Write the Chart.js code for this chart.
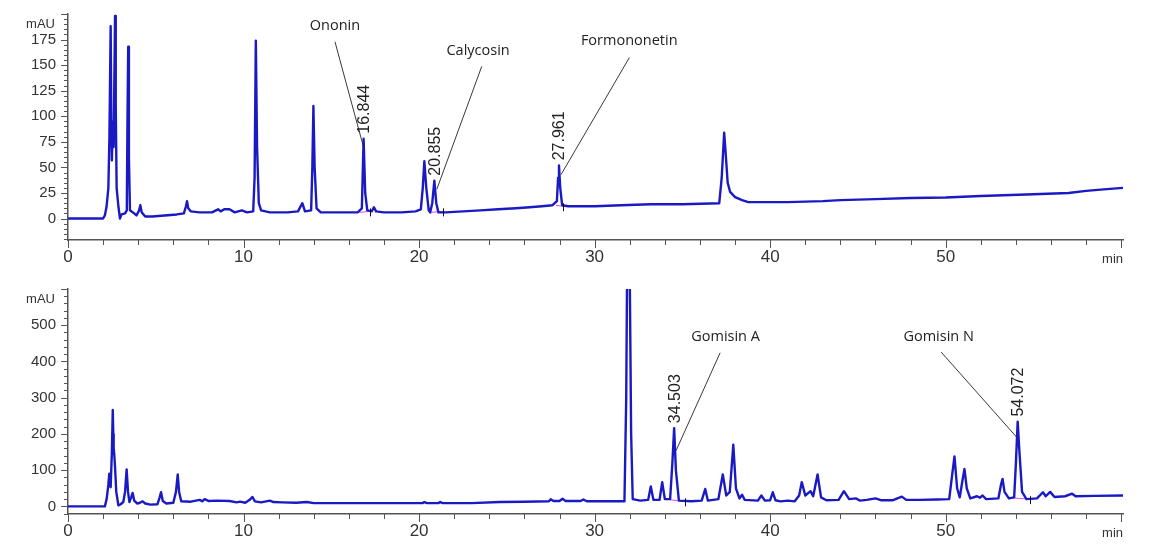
<!DOCTYPE html>
<html>
<head>
<meta charset="utf-8">
<title>Chromatograms</title>
<script src="https://cdn.jsdelivr.net/npm/chart.js@4.4.1/dist/chart.umd.min.js"></script>
<style>
  html, body { margin: 0; padding: 0; background: #fff; }
  #wrap { position: relative; width: 1151px; height: 551px; overflow: hidden; }
  #wrap canvas { position: absolute; left: 0; }
  #topChart { top: 0; }
  #bottomChart { top: 275px; }
</style>
</head>
<body>
<div id="wrap">
  <canvas id="topChart" width="1151" height="275"></canvas>
  <canvas id="bottomChart" width="1151" height="276"></canvas>
</div>
<script>
// retention time (min), absorbance (mAU)
const topTrace = [
  [0, 0], [2.0, 0], [2.1, 3], [2.2, 12], [2.3, 30], [2.36, 80], [2.43, 188], [2.47, 90], [2.5, 57],
  [2.55, 95], [2.6, 70], [2.65, 150], [2.68, 198], [2.72, 110], [2.77, 30], [2.87, 12], [2.96, 0],
  [3.05, 4], [3.25, 5], [3.35, 8], [3.39, 100], [3.43, 168], [3.47, 60], [3.53, 8], [3.7, 6], [3.9, 3],
  [4.05, 8], [4.12, 13], [4.2, 6], [4.4, 2], [4.8, 2], [5.5, 3], [6.2, 4], [6.6, 5], [6.72, 12],
  [6.78, 17], [6.85, 10], [7.0, 7], [7.5, 6], [8.2, 6], [8.55, 9], [8.7, 7], [8.9, 9], [9.2, 9],
  [9.5, 6], [9.9, 8], [10.2, 6], [10.55, 7], [10.63, 40], [10.7, 174], [10.77, 70], [10.87, 15],
  [11.0, 8], [11.5, 6], [12.5, 6], [13.1, 7], [13.35, 15], [13.5, 7], [13.85, 8], [13.92, 50],
  [13.98, 110], [14.05, 50], [14.16, 10], [14.4, 6], [15.5, 6], [16.5, 6], [16.74, 10], [16.84, 78],
  [16.93, 25], [17.05, 8], [17.3, 7], [17.43, 11], [17.55, 7], [18, 6], [19, 6], [19.8, 7], [20.1, 9],
  [20.21, 30], [20.3, 56], [20.41, 30], [20.55, 8], [20.63, 6], [20.75, 15], [20.87, 37], [20.98, 15],
  [21.1, 6], [21.5, 6], [22.5, 7], [23.5, 8], [24.5, 9], [25.5, 10], [26.3, 11], [27.0, 12], [27.6, 13],
  [27.85, 17], [27.92, 40], [27.97, 52], [28.04, 30], [28.15, 13], [28.5, 12], [30, 12], [31.5, 13],
  [33.2, 14], [35, 14], [37.1, 15], [37.24, 40], [37.38, 84], [37.48, 60], [37.58, 35], [37.72, 26],
  [38.0, 21], [38.4, 18], [38.75, 16], [39.0, 16], [41, 16], [43, 17], [44, 18], [46, 19], [48, 20],
  [50, 20.5], [52, 22], [55, 23.7], [57, 25], [58, 27], [59, 28.5], [60.1, 30]
];

// retention time (min), absorbance (mAU)
const bottomTrace = [
  [0, 0], [2.1, 0], [2.2, 20], [2.24, 35], [2.3, 60], [2.35, 90], [2.43, 53], [2.5, 150], [2.55, 266],
  [2.58, 200], [2.6, 163], [2.64, 140], [2.68, 108], [2.75, 40], [2.87, 3], [3.0, 6], [3.15, 12],
  [3.25, 40], [3.34, 102], [3.42, 40], [3.5, 12], [3.6, 25], [3.68, 37], [3.78, 15], [3.95, 8],
  [4.1, 10], [4.25, 14], [4.4, 8], [4.7, 5], [5.1, 6], [5.22, 25], [5.3, 39], [5.4, 15], [5.6, 8],
  [6.0, 10], [6.15, 40], [6.25, 88], [6.33, 40], [6.45, 14], [7.0, 13], [7.5, 18], [7.65, 14],
  [7.78, 20], [8.0, 15], [8.5, 16], [9.2, 15], [9.6, 11], [9.8, 13], [10.1, 10], [10.35, 18],
  [10.5, 26], [10.65, 14], [11.0, 11], [11.5, 16], [11.7, 12], [12.2, 11], [13.0, 10], [13.6, 12],
  [14, 9], [16, 9], [18, 9], [20.2, 9], [20.3, 12], [20.45, 9], [21.1, 9], [21.2, 12], [21.35, 9],
  [23, 9], [24.6, 12], [26, 13], [27.4, 14], [27.5, 20], [27.65, 15], [28.0, 15], [28.17, 21],
  [28.35, 15], [29.2, 15], [29.36, 19], [29.55, 14], [30.5, 14], [31.0, 14], [31.7, 14], [31.8, 300],
  [31.85, 650], [32.0, 650], [32.08, 200], [32.17, 20], [32.6, 16], [33.05, 18], [33.2, 55], [33.35, 18],
  [33.7, 18], [33.85, 67], [34.0, 20], [34.3, 20], [34.43, 120], [34.53, 216], [34.63, 100], [34.8, 16],
  [35.5, 14], [36.1, 16], [36.3, 48], [36.45, 16], [37.05, 20], [37.3, 88], [37.5, 30], [37.7, 40],
  [37.9, 170], [38.05, 50], [38.25, 22], [38.4, 32], [38.55, 18], [39.3, 16], [39.5, 30], [39.7, 16],
  [40.0, 17], [40.15, 39], [40.3, 17], [40.6, 14], [41.0, 16], [41.4, 14], [41.65, 30], [41.8, 67],
  [42.0, 30], [42.3, 42], [42.45, 28], [42.7, 88], [42.9, 25], [43.2, 17], [43.9, 18], [44.2, 42],
  [44.5, 20], [44.9, 22], [45.1, 16], [45.5, 18], [46.0, 22], [46.3, 17], [47.0, 17], [47.5, 27],
  [47.75, 18], [48.5, 18], [49.5, 19], [50.2, 20], [50.35, 80], [50.5, 138], [50.65, 50], [50.8, 25],
  [50.95, 70], [51.07, 103], [51.2, 50], [51.4, 22], [51.78, 28], [51.95, 24], [52.1, 30], [52.3, 20],
  [53.0, 22], [53.15, 60], [53.24, 76], [53.35, 40], [53.6, 22], [53.9, 25], [54.0, 120], [54.1, 234],
  [54.2, 150], [54.35, 40], [54.6, 20], [55.2, 22], [55.54, 39], [55.7, 28], [55.95, 40], [56.2, 26],
  [56.8, 28], [57.2, 35], [57.4, 28], [58.5, 29], [60.1, 30]
];

const xTickValues = [0, 10, 20, 30, 40, 50];
const topYTickValues = [0, 25, 50, 75, 100, 125, 150, 175];
const bottomYTickValues = [0, 100, 200, 300, 400, 500];

// retention times printed over the labelled peaks
const topPeaks = [
  { label: '16.844', time: 16.84, height: 78 },
  { label: '20.855', time: 20.87, height: 37 },
  { label: '27.961', time: 27.97, height: 52 }
];
const bottomPeaks = [
  { label: '34.503', time: 34.53, height: 216 },
  { label: '54.072', time: 54.1, height: 234 }
];

// integration baselines under the labelled peaks: [t1, v1, t2, v2]
const topBaselines = [[16.6, 6, 17.2, 7], [20.63, 6, 21.35, 7], [27.8, 13, 28.19, 12]];
const bottomBaselines = [[34.3, 18, 35.16, 14], [53.9, 23, 54.8, 20]];

// compound names with their leader lines (data coordinates)
const topNotes = [
  { name: 'Ononin', at: [15.21, 188.5], from: [15.21, 172.8], to: [16.83, 70.2] },
  { name: 'Calycosin', at: [23.36, 163.5], from: [23.57, 148.8], to: [21.01, 28.6] },
  { name: 'Formononetin', at: [31.97, 173.6], from: [31.98, 157.4], to: [28.09, 43] }
];
const bottomNotes = [
  { name: 'Gomisin A', at: [37.46, 467], from: [37.15, 424], to: [34.64, 154] },
  { name: 'Gomisin N', at: [49.6, 467], from: [49.74, 426], to: [54.06, 190] }
];

const traceColor = '#1a1ac4';
const axisColor = '#555';
const textColor = '#333';
const sansFont = '"Liberation Sans", Arial, sans-serif';

Chart.defaults.font.family = sansFont;
Chart.defaults.color = textColor;

function overlay(cfg) {
  return {
    id: 'overlay',
    beforeDatasetsDraw(chart) {
      const { ctx, scales: { x, y } } = chart;
      ctx.save();
      ctx.strokeStyle = '#e050d8';
      ctx.lineWidth = 1;
      cfg.baselines.forEach(b => {
        ctx.beginPath();
        ctx.moveTo(x.getPixelForValue(b[0]), y.getPixelForValue(b[1]));
        ctx.lineTo(x.getPixelForValue(b[2]), y.getPixelForValue(b[3]));
        ctx.stroke();
      });
      ctx.restore();
    },
    afterDraw(chart) {
      const { ctx, chartArea: area, scales: { x, y } } = chart;
      ctx.save();

      // tick marks, minor and major
      ctx.strokeStyle = axisColor;
      ctx.lineWidth = 1;
      ctx.beginPath();
      for (let i = 0; i * 2 <= x.max; i++) {
        const px = Math.round(x.getPixelForValue(i * 2)) + 0.5;
        const len = i % 5 === 0 ? 8 : 5;
        ctx.moveTo(px, area.bottom);
        ctx.lineTo(px, area.bottom + len);
      }
      for (let k = Math.ceil(y.min / cfg.minorStep); k * cfg.minorStep <= y.max; k++) {
        const v = k * cfg.minorStep;
        const py = Math.round(y.getPixelForValue(v)) + 0.5;
        const len = v % cfg.majorStep === 0 ? 7 : 4;
        ctx.moveTo(area.left - len, py);
        ctx.lineTo(area.left, py);
      }
      ctx.stroke();

      // unit labels
      ctx.fillStyle = textColor;
      ctx.font = '13px ' + sansFont;
      ctx.textAlign = 'right';
      ctx.textBaseline = 'middle';
      ctx.fillText('mAU', area.left - 13, area.top + 10);
      ctx.fillText('min', area.right, area.bottom + 19);

      // peak end marks
      ctx.strokeStyle = '#111';
      ctx.beginPath();
      cfg.baselines.forEach(b => {
        const px = Math.round(x.getPixelForValue(b[2])) + 0.5;
        const py = y.getPixelForValue(b[3]);
        ctx.moveTo(px, py - 3);
        ctx.lineTo(px, py + 5);
      });
      ctx.stroke();

      // leader lines and compound names
      ctx.strokeStyle = '#222';
      ctx.lineWidth = 0.9;
      cfg.notes.forEach(n => {
        ctx.beginPath();
        ctx.moveTo(x.getPixelForValue(n.from[0]), y.getPixelForValue(n.from[1]));
        ctx.lineTo(x.getPixelForValue(n.to[0]), y.getPixelForValue(n.to[1]));
        ctx.stroke();
      });
      ctx.fillStyle = '#222';
      ctx.font = '14.5px "Open Sans", sans-serif';
      ctx.textAlign = 'center';
      cfg.notes.forEach(n => {
        ctx.fillText(n.name, x.getPixelForValue(n.at[0]), y.getPixelForValue(n.at[1]));
      });

      // retention times, rotated
      ctx.font = '16px ' + sansFont;
      ctx.textAlign = 'left';
      cfg.peaks.forEach(p => {
        ctx.save();
        ctx.translate(x.getPixelForValue(p.time), y.getPixelForValue(p.height) - 5);
        ctx.rotate(-Math.PI / 2);
        ctx.fillText(p.label, 0, 1);
        ctx.restore();
      });
      ctx.restore();
    }
  };
}

function makeChart(id, trace, yTicks, yMin, yMax, padTop, xHeight, cfg) {
  return new Chart(document.getElementById(id), {
    type: 'line',
    data: {
      datasets: [{
        data: trace,
        borderColor: traceColor,
        borderWidth: 2.4,
        borderJoinStyle: 'round',
        pointRadius: 0,
        tension: 0,
        fill: false
      }]
    },
    options: {
      responsive: false,
      animation: false,
      events: [],
      layout: { padding: { left: 0, right: 28, top: padTop, bottom: 0 } },
      plugins: { legend: { display: false }, tooltip: { enabled: false } },
      scales: {
        x: {
          type: 'linear',
          min: 0,
          max: 60.1,
          afterBuildTicks: s => { s.ticks = xTickValues.map(v => ({ value: v })); },
          afterFit: s => { s.height = xHeight; },
          grid: { display: false, tickLength: 7 },
          border: { display: true, color: axisColor, width: 1.5 },
          ticks: { padding: 0, maxRotation: 0, autoSkip: false, color: textColor, font: { size: 17 } }
        },
        y: {
          type: 'linear',
          min: yMin,
          max: yMax,
          afterBuildTicks: s => { s.ticks = yTicks.map(v => ({ value: v })); },
          afterFit: s => { s.width = 68; },
          grid: { display: false, tickLength: 7 },
          border: { display: true, color: axisColor, width: 1.5 },
          ticks: { padding: 5, autoSkip: false, color: textColor, font: { size: 15 } }
        }
      }
    },
    plugins: [overlay(cfg)]
  });
}

makeChart('topChart', topTrace, topYTickValues, -21, 200, 10, 35,
  { peaks: topPeaks, notes: topNotes, baselines: topBaselines, minorStep: 5, majorStep: 25 });
makeChart('bottomChart', bottomTrace, bottomYTickValues, -21, 600, 13, 37,
  { peaks: bottomPeaks, notes: bottomNotes, baselines: bottomBaselines, minorStep: 20, majorStep: 100 });
</script>
</body>
</html>
